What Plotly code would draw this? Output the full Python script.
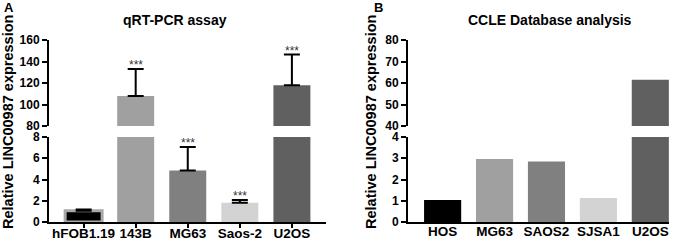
import plotly.graph_objects as go

# ---------------- data ----------------
cats_a = ["hFOB1.19", "143B", "MG63", "Saos-2", "U2OS"]
vals_a = [1.05, 108, 4.85, 1.82, 118]
err_a = [0.12, 25, 2.2, 0.25, 28.5]
stars_a = ["", "***", "***", "***", "***"]
colors_a = ["#000000", "#a0a0a0", "#808080", "#d3d3d3", "#606060"]
edge_a = ["#a8a8a8", "#a0a0a0", "#808080", "#d3d3d3", "#606060"]
edgew_a = [3, 0, 0, 0, 0]

cats_b = ["HOS", "MG63", "SAOS2", "SJSA1", "U2OS"]
vals_b = [1.04, 2.96, 2.85, 1.13, 61.5]
colors_b = ["#000000", "#a0a0a0", "#808080", "#d3d3d3", "#606060"]

low_ticks_a = [0, 2, 4, 6, 8]
up_ticks_a = [80, 100, 120, 140, 160]
low_ticks_b = [0, 1, 2, 3, 4]
up_ticks_b = [40, 50, 60, 70, 80]

ytitle = "Relative LINC00987 expression"
title_a = "qRT-PCR assay"
title_b = "CCLE Database analysis"

# ---------------- layout helpers ----------------
W, H = 685, 243
def px(x):
    return x / W
def py(y):
    return 1 - y / H

FONT = "Liberation Sans, Arial, sans-serif"
fig = go.Figure()

# Panel A lower / upper
for xa, ya in [("x", "y"), ("x2", "y2")]:
    fig.add_trace(go.Bar(
        x=cats_a, y=vals_a, xaxis=xa, yaxis=ya, width=0.71,
        marker=dict(color=colors_a, line=dict(color=edge_a, width=edgew_a)),
        error_y=dict(type="data", array=err_a, arrayminus=[0]*5, symmetric=False,
                     color="black", thickness=2, width=8),
        showlegend=False, hoverinfo="x+y"))
# Panel B lower / upper
for xa, ya in [("x3", "y3"), ("x4", "y4")]:
    fig.add_trace(go.Bar(
        x=cats_b, y=vals_b, xaxis=xa, yaxis=ya, width=0.715,
        marker=dict(color=colors_b, line=dict(width=0)),
        showlegend=False, hoverinfo="x+y"))

tickfont_y = dict(family=FONT, size=12, color="black", weight="bold")
tickfont_x = dict(family=FONT, size=13.5, color="black", weight="bold")
axis_common = dict(showgrid=False, zeroline=False, showline=True, linecolor="black",
                   linewidth=2, ticks="outside", tickwidth=2, tickcolor="black",
                   ticklen=5, automargin=False, tickfont=tickfont_y)

dom_a = [px(49), px(326)]
dom_b = [px(408), px(669)]
low_dom = [py(222), py(137)]
up_dom = [py(126), py(40)]

fig.update_layout(
    template="none",
    width=W, height=H, margin=dict(l=0, r=0, t=0, b=0, pad=0),
    plot_bgcolor="white", paper_bgcolor="white",
    font=dict(family=FONT, color="black"),
    xaxis=dict(domain=dom_a, anchor="y", range=[-0.665, 4.655], showgrid=False,
               showline=True, linecolor="black", linewidth=2, ticks="outside",
               ticklen=4, tickwidth=2, tickcolor="black", automargin=False,
               tickfont=tickfont_x, zeroline=False, ticklabelstandoff=-6),
    xaxis2=dict(domain=dom_a, anchor="y2", range=[-0.665, 4.655], visible=False,
                automargin=False),
    yaxis=dict(domain=low_dom, anchor="x", range=[0, 8], tickvals=low_ticks_a, **axis_common),
    yaxis2=dict(domain=up_dom, anchor="x2", range=[80, 160], tickvals=up_ticks_a, **axis_common),
    xaxis3=dict(domain=dom_b, anchor="y3", range=[-0.667, 4.36], showgrid=False,
                showline=True, linecolor="black", linewidth=2, ticks="",
                automargin=False, tickfont=tickfont_x, zeroline=False,
                ticklabelstandoff=-4),
    xaxis4=dict(domain=dom_b, anchor="y4", range=[-0.667, 4.36], visible=False,
                automargin=False),
    yaxis3=dict(domain=low_dom, anchor="x3", range=[0, 4], tickvals=low_ticks_b, **axis_common),
    yaxis4=dict(domain=up_dom, anchor="x4", range=[40, 80], tickvals=up_ticks_b, **axis_common),
)

ann = []
# significance stars
for c, v, e, s in zip(cats_a, vals_a, err_a, stars_a):
    if not s:
        continue
    top = v + e
    yref = "y" if top <= 8 else "y2"
    ann.append(dict(x=c, y=top, xref="x" if yref == "y" else "x2", yref=yref,
                    text=s, showarrow=False, yanchor="bottom", yshift=-5,
                    font=dict(family=FONT, size=12, color="#333333")))
# titles
def label(x, y, text, size, xanchor="center", angle=0):
    return dict(x=px(x), y=py(y), xref="paper", yref="paper", text="<b>%s</b>" % text,
                xanchor=xanchor, yanchor="middle", textangle=angle, showarrow=False,
                font=dict(family=FONT, size=size, color="black", weight="bold"))

ann.append(label(175, 20, title_a, 14))
ann.append(label(550, 20, title_b, 14))
ann.append(label(2, 8, "A", 13, xanchor="left"))
ann.append(label(372, 8, "B", 13, xanchor="left"))
ann.append(label(8, 122, ytitle, 14.5, angle=-90))
ann.append(label(371, 122, ytitle, 14.5, angle=-90))
fig.update_layout(annotations=ann)

fig.write_html("out.html", config={"displayModeBar": False},
               post_script="document.body.style.margin='0';document.body.style.overflow='hidden';")
